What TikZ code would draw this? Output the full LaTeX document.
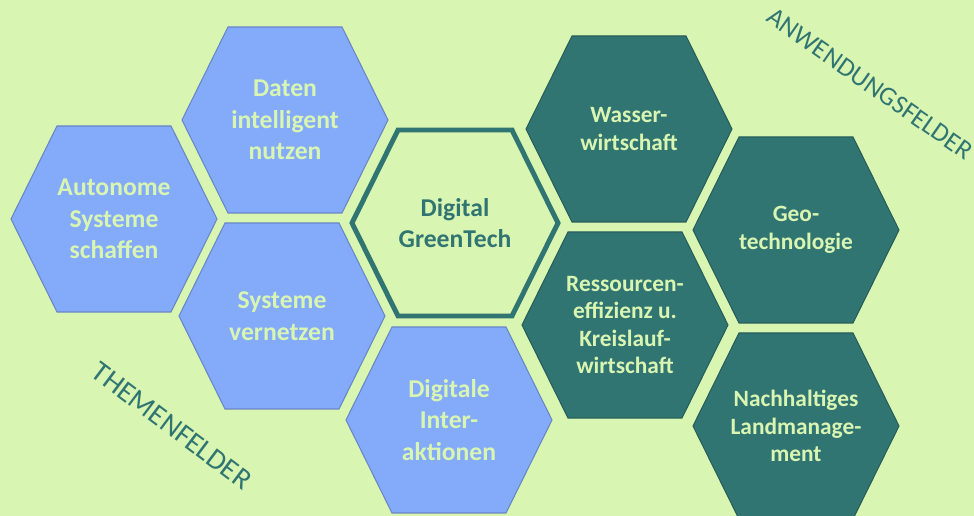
\documentclass[tikz,border=0pt]{standalone}
\usepackage{fontspec}
\setmainfont{Carlito}
\usetikzlibrary{positioning}

\definecolor{hellgruen}{HTML}{D8F5B2}
\definecolor{themablau}{HTML}{84AAFA}
\definecolor{blaurand}{HTML}{6886C4}
\definecolor{petrol}{HTML}{317572}
\definecolor{petrolrand}{HTML}{275D5A}

\tikzset{
  thema/.style={fill=themablau, draw=blaurand, line width=0.6pt},
  anwendung/.style={fill=petrol, draw=petrolrand, line width=0.6pt},
  kern/.style={fill=hellgruen, draw=petrol, line width=2.8pt},
  feldtext/.style={text=hellgruen, font=\bfseries\fontsize{14.6}{18}\selectfont, align=center},
  anwendtext/.style={text=hellgruen, font=\bfseries\fontsize{13.3}{15.6}\selectfont, align=center},
  kerntext/.style={text=petrol, font=\bfseries\fontsize{14.6}{18}\selectfont, align=center},
  rubrik/.style={text=petrol, font=\fontsize{15}{18}\selectfont}
}

% one hexagon with its label: style, text style, centre, name, text
\newcommand{\wabe}[5]{%
  \draw[#1, shift={(#3)}] (-103,0) -- (-57,-93) -- (57,-93) -- (103,0) -- (57,93) -- (-57,93) -- cycle;
  \node[#2] (#4) at (#3) {#5};
}

\begin{document}
\begin{tikzpicture}[x=0.02cm, y=-0.02cm]
  \fill[hellgruen] (0,0) rectangle (974,516);
  \useasboundingbox (0,0) rectangle (974,516);
  \clip (0,0) rectangle (974,516);

  % Themenfelder
  \wabe{thema}{feldtext}{114,219}{autonom}{Autonome\\Systeme\\schaffen}
  \wabe{thema}{feldtext}{285,120}{daten}{Daten\\intelligent\\nutzen}
  \wabe{thema}{feldtext}{282,316}{vernetzen}{Systeme\\vernetzen}
  \wabe{thema}{feldtext}{449,420}{interaktion}{Digitale\\Inter-\\aktionen}

  % Mitte
  \wabe{kern}{kerntext}{455,223}{greentech}{Digital\\GreenTech}

  % Anwendungsfelder
  \wabe{anwendung}{anwendtext}{629,129}{wasser}{Wasser-\\wirtschaft}
  \wabe{anwendung}{anwendtext}{625,325}{ressourcen}{Ressourcen-\\effizienz u.\\Kreislauf-\\wirtschaft}
  \wabe{anwendung}{anwendtext}{796,230}{geo}{Geo-\\technologie}
  \wabe{anwendung}{anwendtext}{796,426}{land}{Nachhaltiges\\Landmanage-\\ment}

  \node[rubrik, rotate=-35] (anwendungsfelder) at (870,84) {ANWENDUNGSFELDER};
  \node[rubrik, font=\fontsize{16.5}{20}\selectfont, rotate=-37] (themenfelder) at (172,426) {THEMENFELDER};
\end{tikzpicture}
\end{document}
